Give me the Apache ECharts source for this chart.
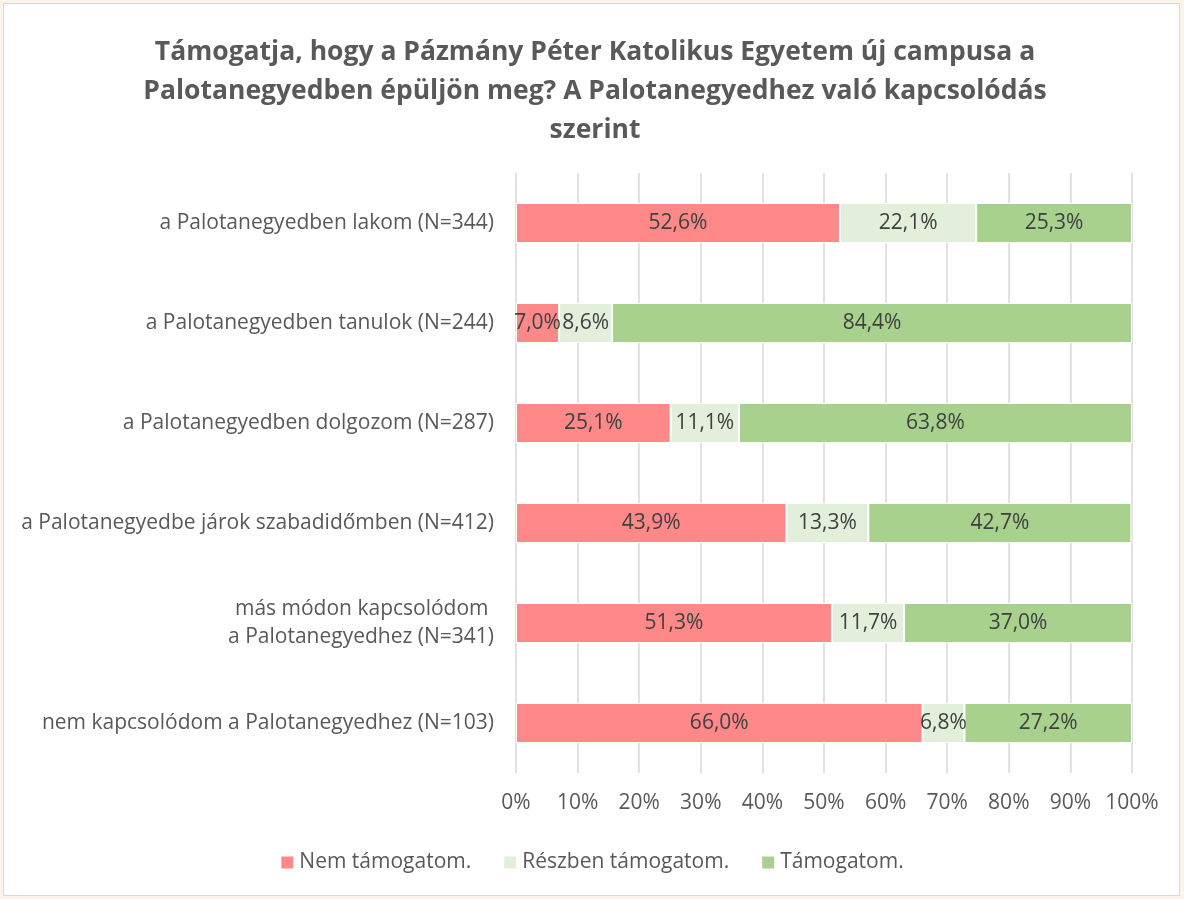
<!DOCTYPE html>
<html>
<head>
<meta charset="utf-8">
<script src="https://cdn.jsdelivr.net/npm/echarts@6/dist/echarts.min.js"></script>
<style>
  body { margin: 0; background: #fcf4e9; }
  #chart {
    position: absolute; left: 3px; top: 3px;
    width: 1175px; height: 891px;
    border: 1px solid #d9d9d9; background: #fff;
  }
</style>
</head>
<body>
<div id="chart"></div>
<script>
  var categories = [
    'a Palotanegyedben lakom (N=344)',
    'a Palotanegyedben tanulok (N=244)',
    'a Palotanegyedben dolgozom (N=287)',
    'a Palotanegyedbe járok szabadidőmben (N=412)',
    'más módon kapcsolódom \na Palotanegyedhez (N=341)',
    'nem kapcsolódom a Palotanegyedhez (N=103)'
  ];
  var nemTamogatom = [52.6, 7.0, 25.1, 43.9, 51.3, 66.0];
  var reszbenTamogatom = [22.1, 8.6, 11.1, 13.3, 11.7, 6.8];
  var tamogatom = [25.3, 84.4, 63.8, 42.7, 37.0, 27.2];
  var seriesNames = ['Nem támogatom.', 'Részben támogatom.', 'Támogatom.'];
  var colors = ['#ff8989', '#e2efda', '#a9d18e'];

  var font = '"Open Sans", sans-serif';
  var fmt = function (p) { return p.value.toFixed(1).replace('.', ',') + '%'; };

  function bar(name, data, color) {
    return {
      name: name,
      type: 'bar',
      stack: 'total',
      barWidth: 40,
      data: data,
      itemStyle: { color: color, borderColor: '#fff', borderWidth: 1 },
      label: {
        show: true,
        position: 'inside',
        formatter: fmt,
        color: '#404040',
        fontFamily: font,
        fontSize: 21
      }
    };
  }

  var chart = echarts.init(document.getElementById('chart'));
  chart.setOption({
    textStyle: { fontFamily: font },
    color: colors,
    title: {
      text: 'Támogatja, hogy a Pázmány Péter Katolikus Egyetem új campusa a\nPalotanegyedben épüljön meg? A Palotanegyedhez való kapcsolódás\nszerint',
      left: 586,
      top: 24,
      textAlign: 'center',
      textStyle: {
        fontFamily: font,
        fontSize: 26.5,
        fontWeight: 'bold',
        color: '#595959',
        lineHeight: 39
      }
    },
    legend: {
      data: seriesNames,
      top: 843,
      left: 'center',
      itemWidth: 14,
      itemHeight: 14,
      itemGap: 31,
      icon: 'rect',
      textStyle: { fontFamily: font, fontSize: 21, color: '#595959' }
    },
    grid: { left: 512, top: 169, width: 616, height: 600, containLabel: false },
    xAxis: {
      type: 'value',
      min: 0,
      max: 100,
      interval: 10,
      axisLine: { show: false },
      axisTick: { show: false },
      axisLabel: {
        formatter: '{value}%',
        margin: 20,
        fontSize: 21,
        color: '#595959'
      },
      splitLine: { lineStyle: { color: '#d9d9d9', width: 1.5 } }
    },
    yAxis: {
      type: 'category',
      inverse: true,
      data: categories,
      axisLine: { show: false },
      axisTick: { show: false },
      axisLabel: {
        margin: 22,
        fontSize: 21,
        lineHeight: 28,
        align: 'right',
        color: '#595959'
      }
    },
    series: [
      bar(seriesNames[0], nemTamogatom, colors[0]),
      bar(seriesNames[1], reszbenTamogatom, colors[1]),
      bar(seriesNames[2], tamogatom, colors[2])
    ]
  });
</script>
</body>
</html>
